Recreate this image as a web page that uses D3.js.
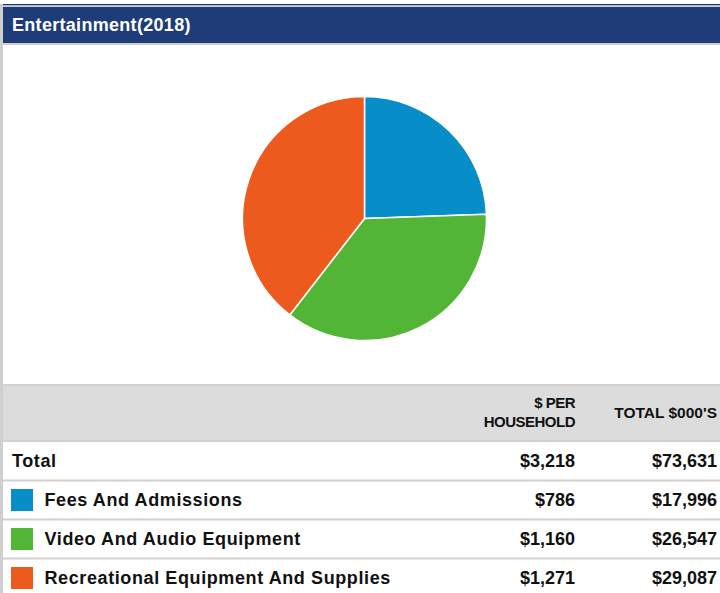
<!DOCTYPE html>
<html>
<head>
<meta charset="utf-8">
<script src="https://cdn.jsdelivr.net/npm/d3@7"></script>
<style>
  html, body { margin: 0; padding: 0; background: #fff; }
  svg { display: block; font-family: Arial, "Liberation Sans", sans-serif; }
</style>
</head>
<body>
<svg id="chart" width="720" height="593"></svg>
<script>
const TITLE = "Entertainment(2018)";
const categories = ["Fees And Admissions", "Video And Audio Equipment", "Recreational Equipment And Supplies"];
const perHousehold = [786, 1160, 1271];
const totals = [17996, 26547, 29087];
const totalPerHousehold = 3218, totalAll = 73631;
const colHeaders = [["$ PER", "HOUSEHOLD"], ["TOTAL $000'S"]];
const colors = ["#078dc8", "#53b535", "#ec5a1e"];

const W = 720, H = 593;
const svg = d3.select("#chart");
const fmt = d3.format("$,");

// panel borders
svg.append("rect").attr("x", 0).attr("y", 4).attr("width", 3).attr("height", H).attr("fill", "#cfcfcf");
svg.append("rect").attr("x", 3).attr("y", 4).attr("width", W).attr("height", 1.5).attr("fill", "#1e3a75");
svg.append("rect").attr("x", 3).attr("y", 5.5).attr("width", W).attr("height", 1.5).attr("fill", "#cfcfcf");

// title bar
svg.append("rect").attr("x", 3).attr("y", 7).attr("width", W).attr("height", 36).attr("fill", "#1e3c78");
svg.append("rect").attr("x", 3).attr("y", 43).attr("width", W).attr("height", 2).attr("fill", "#cfcfcf");
svg.append("text").attr("x", 12).attr("y", 31)
  .attr("fill", "#fff").attr("font-size", 18).attr("font-weight", "bold")
  .attr("letter-spacing", "0.3px")
  .text(TITLE);

// pie
const cx = 364.5, cy = 218.5, r = 122;
const pie = d3.pie().sort(null).value(d => d)(perHousehold);
const arc = d3.arc().innerRadius(0).outerRadius(r);
svg.append("g").attr("transform", `translate(${cx},${cy})`)
  .selectAll("path").data(pie).join("path")
  .attr("d", arc)
  .attr("fill", (d, i) => colors[i])
  .attr("stroke", "#fff").attr("stroke-width", 1.5);

// table header
const col1 = 575, col2 = 717;
svg.append("rect").attr("x", 3).attr("y", 384).attr("width", W).attr("height", 58).attr("fill", "#d3d0cd");
svg.append("rect").attr("x", 3).attr("y", 386).attr("width", W).attr("height", 54).attr("fill", "#dcdcdc");

const hdr = svg.append("g").attr("font-weight", "bold")
  .attr("fill", "#111").attr("text-anchor", "end");
hdr.append("text").attr("x", col1).attr("y", 408).attr("font-size", 15).attr("letter-spacing", "-0.5px").text(colHeaders[0][0]);
hdr.append("text").attr("x", col1).attr("y", 427).attr("font-size", 15).attr("letter-spacing", "-0.5px").text(colHeaders[0][1]);
hdr.append("text").attr("x", col2).attr("y", 418).attr("font-size", 15.5).text(colHeaders[1][0]);

// rows
const rows = [{ label: "Total", per: totalPerHousehold, tot: totalAll, color: null }]
  .concat(categories.map((c, i) => ({ label: c, per: perHousehold[i], tot: totals[i], color: colors[i] })));

const rowY = d3.scaleLinear().domain([0, 1]).range([442, 481]);
const g = svg.append("g").attr("font-size", 18).attr("font-weight", "bold").attr("fill", "#111");
rows.forEach((d, i) => {
  const y0 = rowY(i);
  if (i > 0) {
    svg.append("rect").attr("x", 3).attr("y", y0 - 1.5).attr("width", W).attr("height", 2).attr("fill", "#d3d0cd");
    g.append("rect").attr("x", 11).attr("y", y0 + 8).attr("width", 22).attr("height", 22).attr("fill", d.color);
  }
  g.append("text").attr("x", d.color ? 44.5 : 12).attr("y", y0 + 25)
    .attr("letter-spacing", "0.6px").text(d.label);
  g.append("text").attr("x", col1).attr("y", y0 + 25).attr("text-anchor", "end").text(fmt(d.per));
  g.append("text").attr("x", col2).attr("y", y0 + 25).attr("text-anchor", "end").text(fmt(d.tot));
});
</script>
</body>
</html>
